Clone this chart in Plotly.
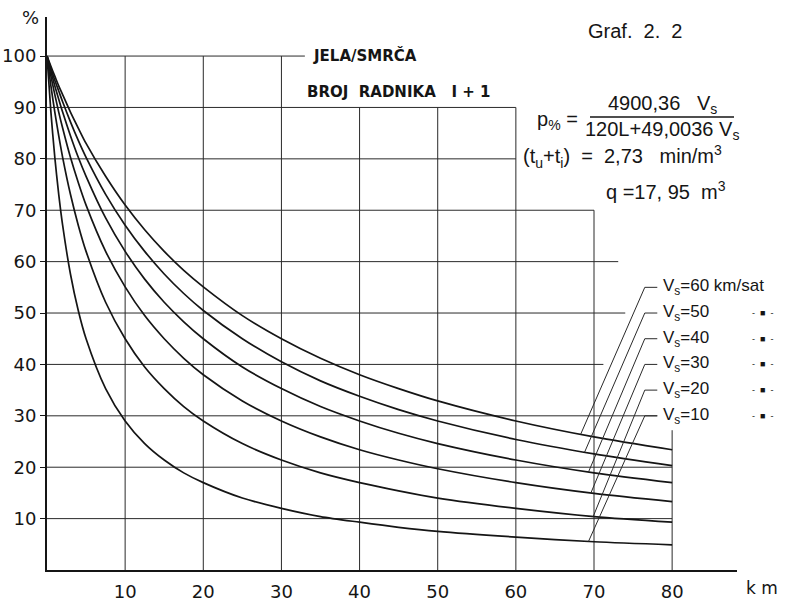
import plotly.graph_objects as go
import numpy as np

# ---------------- data ----------------
km = [0, 0.5, 1, 1.5, 2, 3, 4, 5, 7.5, 10, 12.5, 15, 17.5, 20, 25, 30, 35, 40, 45, 50, 60, 70, 80]
p_v10 = [100, 89.1, 80.3, 73.1, 67.1, 57.6, 50.5, 45.0, 35.3, 29.0, 24.6, 21.4, 18.9, 17.0, 14.0, 12.0, 10.4, 9.3, 8.3, 7.5, 6.4, 5.5, 4.9]
p_v20 = [100, 94.2, 89.1, 84.5, 80.3, 73.1, 67.1, 62.0, 52.1, 45.0, 39.5, 35.3, 31.8, 29.0, 24.6, 21.4, 18.9, 17.0, 15.4, 14.0, 12.0, 10.4, 9.3]
p_v30 = [100, 96.1, 92.5, 89.1, 86.0, 80.3, 75.4, 71.0, 62.0, 55.1, 49.5, 45.0, 41.2, 38.0, 32.9, 29.0, 25.9, 23.4, 21.4, 19.7, 17.0, 14.9, 13.3]
p_v40 = [100, 97.0, 94.2, 91.6, 89.1, 84.5, 80.3, 76.6, 68.5, 62.0, 56.6, 52.1, 48.3, 45.0, 39.5, 35.3, 31.8, 29.0, 26.6, 24.6, 21.4, 18.9, 17.0]
p_v50 = [100, 97.6, 95.3, 93.2, 91.1, 87.2, 83.6, 80.3, 73.1, 67.1, 62.0, 57.6, 53.8, 50.5, 45.0, 40.5, 36.8, 33.8, 31.2, 29.0, 25.4, 22.6, 20.3]
p_v60 = [100, 98.0, 96.1, 94.2, 92.5, 89.1, 86.0, 83.0, 76.6, 71.0, 66.2, 62.0, 58.3, 55.1, 49.5, 45.0, 41.2, 38.0, 35.3, 32.9, 29.0, 25.9, 23.4]

speeds = [60, 50, 40, 30, 20, 10]
series = [p_v60, p_v50, p_v40, p_v30, p_v20, p_v10]
label_texts = ["V<sub>s</sub>=60 km/sat", "V<sub>s</sub>=50", "V<sub>s</sub>=40",
               "V<sub>s</sub>=30", "V<sub>s</sub>=20", "V<sub>s</sub>=10"]

x_ticks = [10, 20, 30, 40, 50, 60, 70, 80]
y_ticks = [10, 20, 30, 40, 50, 60, 70, 80, 90, 100]

# ---------------- styling / layout ----------------
INK = "#151515"
GRID = "#2a2a2a"
FONT = "DejaVu Sans"
FONT2 = "Liberation Sans"
NB = "&nbsp;"

fig = go.Figure()
for s in series:
    fig.add_trace(go.Scatter(x=km, y=s, mode="lines",
                             line=dict(color=INK, width=1.7, shape="spline", smoothing=0.8),
                             hoverinfo="skip", showlegend=False))

shapes = []
# horizontal grid lines (irregular lengths as in the drawing)
h_ext = {100: 33.0, 90: 60, 80: 60, 70: 70, 60: 73.1, 50: 74.0, 40: 71.2, 30: 78.1, 20: 80, 10: 80}
for yv in y_ticks:
    shapes.append(dict(type="line", xref="x", yref="y", x0=0, x1=h_ext[yv], y0=yv, y1=yv,
                       line=dict(color=GRID, width=1), layer="below"))
# vertical grid lines
v_top = {10: 100, 20: 100, 30: 100, 40: 90, 50: 90, 60: 90, 70: 70, 80: 27.2}
for xv in x_ticks:
    shapes.append(dict(type="line", xref="x", yref="y", x0=xv, x1=xv, y0=0, y1=v_top[xv],
                       line=dict(color=GRID, width=1), layer="below"))

# leader lines from labels to curves
label_y = [55, 50, 45, 40, 35, 30]
leader_end_x = [68.3, 68.8, 69.3, 69.6, 69.9, 69.3]
for s, ly, ex in zip(series, label_y, leader_end_x):
    ey = float(np.interp(ex, km, s))
    shapes.append(dict(type="line", xref="x", yref="y", x0=ex, y0=ey, x1=76.5, y1=ly,
                       line=dict(color=GRID, width=1)))
    shapes.append(dict(type="line", xref="x", yref="y", x0=76.5, y0=ly, x1=78.1, y1=ly,
                       line=dict(color=GRID, width=1)))


def pxx(px):
    return (px - 47) / 690.0


def pxy(py):
    return (570 - py) / 553.0


# fraction bar of formula
shapes.append(dict(type="line", xref="paper", yref="paper",
                   x0=pxx(590), x1=pxx(734), y0=pxy(117), y1=pxy(117),
                   line=dict(color=INK, width=1.5)))

annotations = []


def ann(text, x, y, size, xanchor="left", font=FONT2, ref="paper", bold=False, xshift=0):
    annotations.append(dict(text=(f"<b>{text}</b>" if bold else text), x=x, y=y,
                            xref=ref, yref=ref if ref == "paper" else "y",
                            showarrow=False, xanchor=xanchor, yanchor="middle", xshift=xshift,
                            font=dict(family=font, size=size, color=INK)))


for t, ly in zip(label_texts, label_y):
    ann(t, 78.6, ly, 17, ref="x")
for ly in label_y[1:]:
    ann("-" + NB * 2 + "■" + NB * 2 + "-", pxx(762), pxy(570 - ly * 5.14), 9, xanchor="center")

ann("%", pxx(30), pxy(17), 18, font=FONT, xanchor="center")
ann("k m", pxx(744), pxy(588), 17, font=FONT)
ann("JELA/SMRČA", pxx(311), pxy(56), 15, font=FONT, bold=True)
ann("BROJ" + NB * 2 + "RADNIKA" + NB * 3 + "I + 1", pxx(305), pxy(92), 15, font=FONT, bold=True)
ann("Graf." + NB * 2 + "2." + NB * 2 + "2", pxx(586), pxy(31), 20)
ann("p<sub>%</sub> =", pxx(535), pxy(121), 20)
ann("4900,36" + NB * 3 + "V<sub>s</sub>", pxx(662), pxy(105), 20, xanchor="center")
ann("120L+49,0036 V<sub>s</sub>", pxx(662), pxy(130), 20, xanchor="center")
ann("(t<sub>u</sub>+t<sub>i</sub>)" + NB * 2 + "=" + NB * 2 + "2,73" + NB * 3 + "min/m<sup>3</sup>",
    pxx(521), pxy(156), 20)
ann("q =17, 95" + NB * 2 + "m<sup>3</sup>", pxx(604), pxy(190), 20)

fig.update_layout(
    width=806, height=602,
    margin=dict(l=47, r=69, t=17, b=32),
    paper_bgcolor="white", plot_bgcolor="white",
    shapes=shapes, annotations=annotations,
    xaxis=dict(range=[0, 88.3], automargin=False, showgrid=False, zeroline=False, showline=True,
               linecolor=INK, linewidth=2,
               tickvals=x_ticks, ticktext=[str(v) for v in x_ticks], ticks="", ticklabelstandoff=4,
               tickfont=dict(family=FONT, size=18, color=INK)),
    yaxis=dict(range=[0, 107.6], automargin=False, showgrid=False, zeroline=False, showline=True,
               linecolor=INK, linewidth=2,
               tickvals=y_ticks, ticktext=[str(v) for v in y_ticks], ticks="outside", ticklen=5,
               tickcolor=INK, tickwidth=1, tickfont=dict(family=FONT, size=18, color=INK)),
)

fig.write_html("out.html")
